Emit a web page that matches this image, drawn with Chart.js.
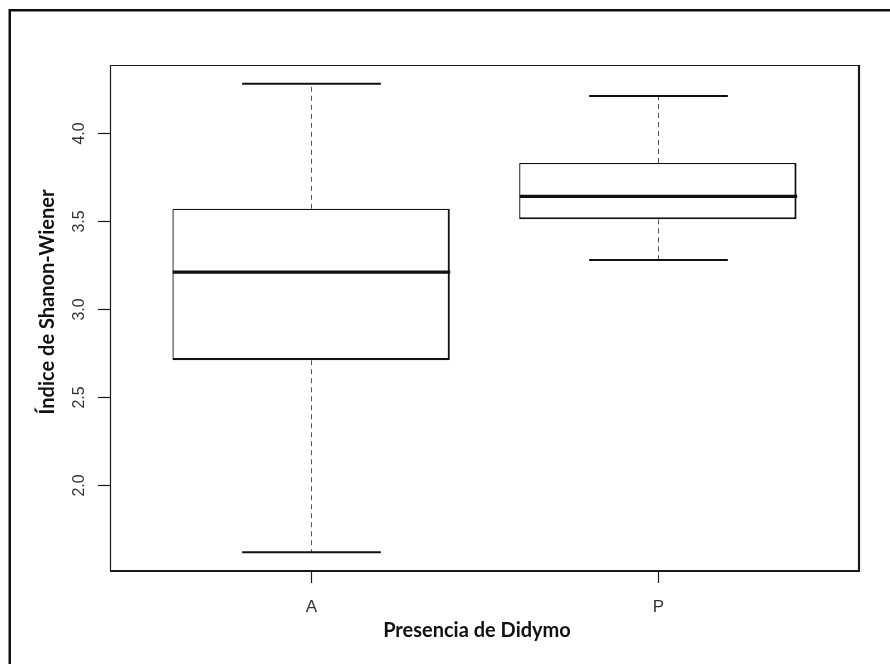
<!DOCTYPE html>
<html>
<head>
<meta charset="utf-8">
<script src="https://cdn.jsdelivr.net/npm/chart.js@4/dist/chart.umd.min.js"></script>
<style>
  html, body { margin: 0; padding: 0; background: #fff; }
  #wrap { width: 890px; height: 664px; position: relative; }
  canvas { display: block; }
</style>
</head>
<body>
<div id="wrap"><canvas id="c" width="890" height="664"></canvas></div>
<script>
// Shannon-Wiener diversity by Didymo presence (A = absent, P = present)
const categories  = ['A', 'P'];
const whiskerLow  = [1.62, 3.28];
const quartile1   = [2.71, 3.51];
const medians     = [3.21, 3.64];
const quartile3   = [3.57, 3.83];
const whiskerHigh = [4.28, 4.21];
const yTicks      = [2.0, 2.5, 3.0, 3.5, 4.0];
const yTickLabels = ['2.0', '2.5', '3.0', '3.5', '4.0'];
const xTitle = 'Presencia de Didymo';
const yTitle = 'Índice de Shanon-Wiener';

// axis ranges padded 4% like base graphics
const lo = Math.min(...whiskerLow), hi = Math.max(...whiskerHigh);
const span = hi - lo;

const TICK_FONT = '16px "Liberation Sans", Arial, sans-serif';
const XTICK_FONT = '17px "Liberation Sans", Arial, sans-serif';
const TITLE_FONT = 'bold 20px Lato, "Open Sans", sans-serif';

function hline(ctx, x1, x2, yy) { ctx.beginPath(); ctx.moveTo(x1, yy); ctx.lineTo(x2, yy); ctx.stroke(); }
function vline(ctx, xx, y1, y2) { ctx.beginPath(); ctx.moveTo(xx, y1); ctx.lineTo(xx, y2); ctx.stroke(); }

const boxplotMarks = {
  id: 'boxplotMarks',
  beforeDraw(chart) {
    const ctx = chart.ctx;
    ctx.save();
    ctx.fillStyle = '#fff';
    ctx.fillRect(0, 0, chart.width, chart.height);
    ctx.restore();
  },
  afterDatasetsDraw(chart) {
    const { ctx, scales: { x, y } } = chart;
    const unit = x.getPixelForValue(2) - x.getPixelForValue(1);
    const capHalf = unit * 0.2, boxHalf = unit * 0.4;
    ctx.save();
    categories.forEach((c, i) => {
      const cx = Math.round(x.getPixelForValue(i + 1)) + 0.5;
      const pMin = y.getPixelForValue(whiskerLow[i]);
      const pQ1 = y.getPixelForValue(quartile1[i]);
      const pMed = y.getPixelForValue(medians[i]);
      const pQ3 = y.getPixelForValue(quartile3[i]);
      const pMax = y.getPixelForValue(whiskerHigh[i]);
      // dashed whiskers
      ctx.setLineDash([5, 4]);
      ctx.strokeStyle = '#555';
      ctx.lineWidth = 1;
      vline(ctx, cx, pQ3, pMax);
      vline(ctx, cx, pQ1, pMin);
      ctx.setLineDash([]);
      // staples
      ctx.strokeStyle = '#111';
      ctx.lineWidth = 2;
      hline(ctx, cx - capHalf, cx + capHalf, pMax);
      hline(ctx, cx - capHalf, cx + capHalf, pMin);
      // median
      ctx.lineWidth = 3.3;
      hline(ctx, cx - boxHalf, cx + boxHalf, pMed);
    });
    ctx.restore();
  },
  afterDraw(chart) {
    const { ctx, chartArea: a, scales: { x, y } } = chart;
    ctx.save();
    // plot frame: lighter top/left, heavier right/bottom
    ctx.strokeStyle = '#1a1a1a';
    ctx.lineWidth = 1.2;
    hline(ctx, a.left, a.right, a.top + 0.5);
    vline(ctx, a.left + 0.5, a.top, a.bottom);
    ctx.lineWidth = 2.2;
    hline(ctx, a.left, a.right + 1, a.bottom);
    vline(ctx, a.right, a.top, a.bottom + 1);
    // y ticks and rotated labels
    ctx.lineWidth = 1.2;
    ctx.fillStyle = '#333';
    ctx.font = TICK_FONT;
    ctx.textAlign = 'center';
    ctx.textBaseline = 'middle';
    yTicks.forEach((v, i) => {
      const py = Math.round(y.getPixelForValue(v)) + 0.5;
      hline(ctx, a.left - 12, a.left, py);
      ctx.save();
      ctx.translate(80, py);
      ctx.rotate(-Math.PI / 2);
      ctx.fillText(yTickLabels[i], 0, 0);
      ctx.restore();
    });
    // x ticks and labels
    ctx.font = XTICK_FONT;
    categories.forEach((c, i) => {
      const px = Math.round(x.getPixelForValue(i + 1)) + 0.5;
      vline(ctx, px, a.bottom, a.bottom + 12);
      ctx.fillText(c, px, 607);
    });
    // axis titles
    ctx.fillStyle = '#111';
    ctx.font = TITLE_FONT;
    ctx.fillText(xTitle, 477, 631);
    ctx.save();
    ctx.translate(48, 302);
    ctx.rotate(-Math.PI / 2);
    ctx.fillText(yTitle, 0, 0);
    ctx.restore();
    // outer border (top and left edges)
    ctx.fillStyle = '#111';
    ctx.fillRect(9, 9, chart.width - 9, 2.5);
    ctx.fillRect(8.5, 9, 2.5, chart.height - 9);
    ctx.restore();
  }
};

new Chart(document.getElementById('c'), {
  type: 'bar',
  data: {
    datasets: [{
      data: categories.map((c, i) => ({ x: i + 1, y: [quartile1[i], quartile3[i]] })),
      backgroundColor: '#fff',
      borderColor: '#111',
      borderWidth: { top: 1.3, left: 1.3, right: 2.2, bottom: 2.2 },
      borderSkipped: false,
      barPercentage: 0.8,
      categoryPercentage: 1
    }]
  },
  options: {
    responsive: false,
    animation: false,
    devicePixelRatio: 1,
    layout: { padding: { left: 110, top: 65, right: 31, bottom: 93 } },
    plugins: { legend: { display: false }, tooltip: { enabled: false } },
    scales: {
      x: {
        type: 'linear', display: false, offset: false,
        min: 0.5 - 0.04 * 2, max: 2.5 + 0.04 * 2,
        afterBuildTicks: s => { s.ticks = categories.map((c, i) => ({ value: i + 1 })); }
      },
      y: {
        type: 'linear', display: false,
        min: lo - 0.04 * span, max: hi + 0.04 * span
      }
    }
  },
  plugins: [boxplotMarks]
});
</script>
</body>
</html>
